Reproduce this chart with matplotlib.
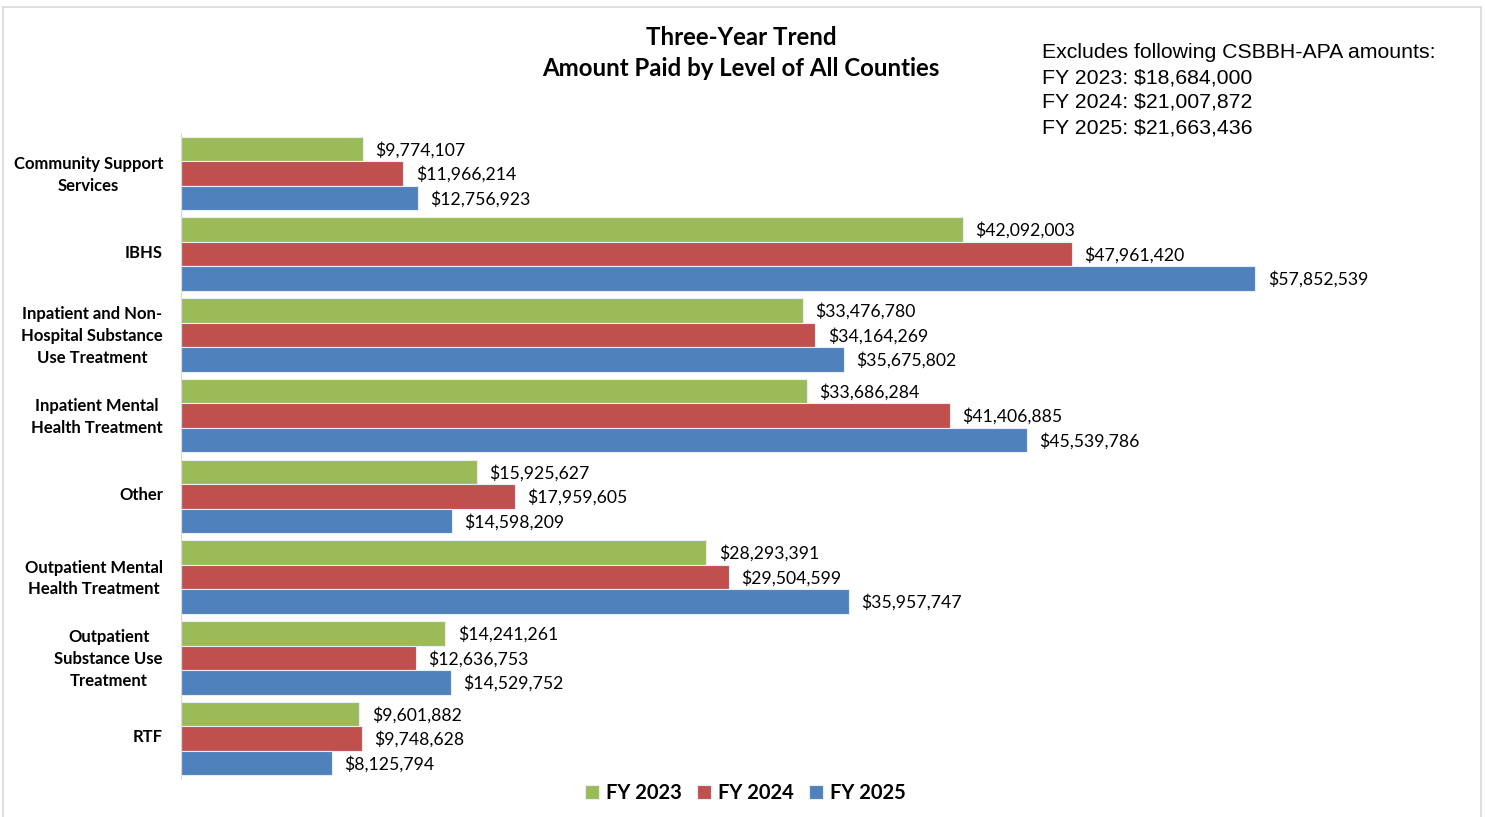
import matplotlib.pyplot as plt
import matplotlib.transforms as mtransforms
import numpy as np
from matplotlib.patches import Rectangle

categories = [
    "Community Support\nServices",
    "IBHS",
    "Inpatient and Non-\nHospital Substance\nUse Treatment",
    "Inpatient Mental\nHealth Treatment",
    "Other",
    "Outpatient Mental\nHealth Treatment",
    "Outpatient\nSubstance Use\nTreatment",
    "RTF",
]
fy2023 = [9774107, 42092003, 33476780, 33686284, 15925627, 28293391, 14241261, 9601882]
fy2024 = [11966214, 47961420, 34164269, 41406885, 17959605, 29504599, 12636753, 9748628]
fy2025 = [12756923, 57852539, 35675802, 45539786, 14598209, 35957747, 14529752, 8125794]
series_names = ["FY 2023", "FY 2024", "FY 2025"]
colors = ["#9BBB59", "#C0504D", "#4F81BD"]
note_lines = [
    "Excludes following CSBBH-APA amounts:",
    "FY 2023: $18,684,000",
    "FY 2024: $21,007,872",
    "FY 2025: $21,663,436",
]

plt.rcParams["font.family"] = ["Lato", "DejaVu Sans"]

fig = plt.figure(figsize=(14.85, 8.17), dpi=100)
ax = fig.add_axes([0.1219, 0.0465, 0.8754, 0.7907])

# outer chart border
fig.patches.append(Rectangle((0.002, -0.01), 0.995, 1.001, transform=fig.transFigure,
                             fill=False, edgecolor="#D9D9D9", linewidth=1.2))

y = np.arange(len(categories))
h = 0.303
for i, (vals, name, col) in enumerate(zip([fy2023, fy2024, fy2025], series_names, colors)):
    pos = y + (i - 1) * h
    ax.barh(pos, vals, height=h, color=col, edgecolor="#E8EEF7", linewidth=0.8, label=name)
    for p, v in zip(pos, vals):
        ax.annotate(f"${v:,.0f}", (v, p), xytext=(9, -0.7), textcoords="offset points",
                    va="center", ha="left", fontsize=12.7, color="black")

ax.set_xlim(0, 70_000_000)
ax.set_ylim(len(categories) - 0.5, -0.5)
ax.set_yticks(y)
ax.set_yticklabels(categories, fontsize=12, fontweight="bold", multialignment="center",
                   linespacing=1.45)
ax.tick_params(axis="y", length=0, pad=13)
# nudge category labels up a little, like the original
shift = mtransforms.ScaledTranslation(0, 3 / 100, fig.dpi_scale_trans)
for lbl in ax.get_yticklabels():
    lbl.set_transform(lbl.get_transform() + shift)
ax.set_xticks([])
for s in ["top", "right", "bottom"]:
    ax.spines[s].set_visible(False)
ax.spines["left"].set_color("#D9D9D9")

fig.text(0.499, 1 - 53 / 817, "Three-Year Trend\nAmount Paid by Level of All Counties",
         ha="center", va="center", fontsize=17.3, fontweight="bold", linespacing=1.45)

for k, line in enumerate(note_lines):
    fig.text(0.7017, 1 - (52.5 + 25 * k) / 817, line, ha="left", va="center",
             fontsize=15.3, family="Liberation Sans")

ax.legend(loc="center", bbox_to_anchor=(0.502, 1 - 793 / 817), bbox_transform=fig.transFigure,
          ncol=3, frameon=False, handlelength=0.7, handleheight=0.7, handletextpad=0.35,
          columnspacing=0.75, prop={"weight": "bold", "size": 14.5})

fig.savefig("out.png", dpi=100)
